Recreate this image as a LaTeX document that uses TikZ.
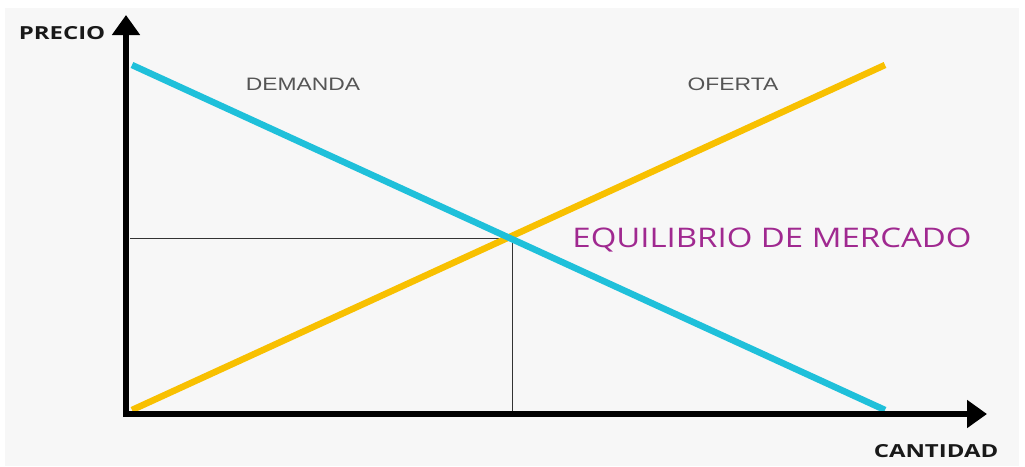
\documentclass[tikz,border=0pt]{standalone}
\usepackage{graphicx}
\usepackage{fontspec}
\setmainfont{Open Sans}
\newfontfamily\arialfont{Liberation Sans}
\usetikzlibrary{arrows.meta}
\definecolor{bgpanel}{HTML}{F7F7F7}
\definecolor{demandcol}{HTML}{1FC0DA}
\definecolor{supplycol}{HTML}{F8C000}
\definecolor{eqcol}{HTML}{A02990}
\definecolor{curvelabel}{HTML}{555555}
\newcommand{\widetext}[2]{\scalebox{#1}[1]{#2}}
\tikzset{
  axisline/.style={line width=6pt, -{Triangle[length=20pt,width=27pt]}},
  curveline/.style={line width=6.5pt},
  guideline/.style={line width=1pt, black!80},
  axislabel/.style={font=\fontsize{18}{21}\selectfont\bfseries, text=black!90, inner sep=0pt},
  curvetext/.style={font=\arialfont\fontsize{18}{21}\selectfont, text=curvelabel, inner sep=0pt},
  eqtext/.style={font=\fontsize{27}{32}\selectfont, text=eqcol, inner sep=0pt}
}
\begin{document}
\begin{tikzpicture}[x=1pt,y=-1pt]
  \useasboundingbox (0,0) rectangle (1025,466);
  \fill[white] (0,0) rectangle (1025,466);
  \fill[bgpanel] (5,8) rectangle (1019,466);

  % key points of the market diagram
  \coordinate (origin) at (126,414);
  \coordinate (ytip) at (126,15);
  \coordinate (xtip) at (987,414);
  \coordinate (dstart) at (132,65);
  \coordinate (dend) at (885,410);
  \coordinate (sstart) at (132,410);
  \coordinate (send) at (885,65);
  \coordinate (eq) at (512,238);
  \coordinate (peq) at (130,238);
  \coordinate (qeq) at (512,414);

  % guide lines to the equilibrium point
  \draw[guideline] (peq) -- (eq) -- (qeq);

  % supply and demand
  \draw[curveline, supplycol] (sstart) -- (send);
  \draw[curveline, demandcol] (dstart) -- (dend);

  % axes
  \draw[axisline] (126,417) -- (ytip);
  \draw[axisline] (123,414) -- (xtip);

  % labels
  \node[axislabel] (precio) at (62,33) {\widetext{1.33}{PRECIO}};
  \node[axislabel] (cantidad) at (936,451) {\widetext{1.33}{CANTIDAD}};
  \node[curvetext] (demanda) at (303,84) {\widetext{1.27}{DEMANDA}};
  \node[curvetext] (oferta) at (733,84) {\widetext{1.27}{OFERTA}};
  \node[eqtext] (eqlabel) at (772,240) {\widetext{1.22}{EQUILIBRIO DE MERCADO}};
\end{tikzpicture}
\end{document}
